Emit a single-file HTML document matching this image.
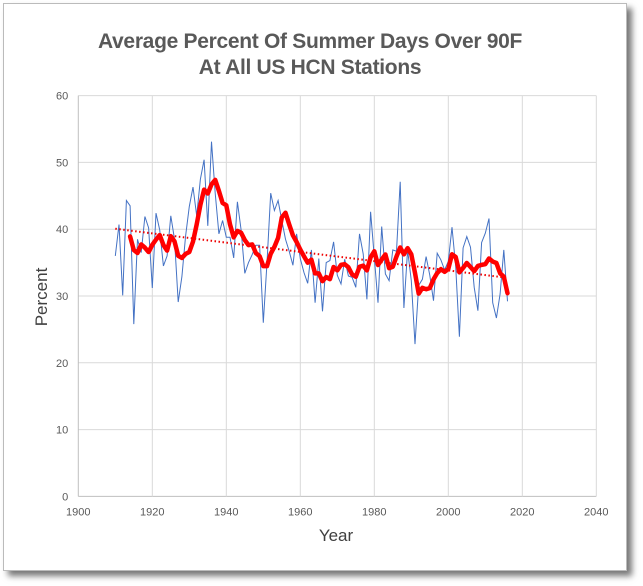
<!DOCTYPE html>
<html><head><meta charset="utf-8"><style>
body{margin:0;background:#fff;width:643px;height:586px;overflow:hidden;font-family:"Liberation Sans",sans-serif}
#frame{position:absolute;left:3px;top:3px;width:622px;height:566px;background:#fff;border:1px solid #bbb;box-shadow:5px 5px 6px #777}
</style></head><body>
<div id="frame"></div>
<svg id="c" width="643" height="586" style="position:absolute;left:0;top:0">
<text x="310" y="48" text-anchor="middle" font-size="21" font-weight="bold" fill="#595959" letter-spacing="-0.3">Average Percent Of Summer Days Over 90F</text>
<text x="310" y="74" text-anchor="middle" font-size="21" font-weight="bold" fill="#595959" letter-spacing="-0.3">At All US HCN Stations</text>
<text x="0" y="0" transform="translate(47,297) rotate(-90)" text-anchor="middle" font-size="17" fill="#404040">Percent</text>
<text x="336" y="541" text-anchor="middle" font-size="17" fill="#404040">Year</text>
<g id="grid"></g><g id="marks"></g>
</svg>
<script>
const years=[];for(let y=1910;y<=2016;y++)years.push(y);
const values=[36.0,40.7,30.1,44.3,43.5,25.8,38.5,36.5,41.9,40.2,31.2,42.4,39.9,34.5,36.0,42.0,38.5,29.1,32.9,39.0,43.4,46.3,42.0,47.5,50.4,40.5,53.1,45.4,39.3,41.3,38.8,38.8,35.7,44.1,39.9,33.4,35.0,36.2,37.6,37.6,26.0,35.0,45.4,42.8,44.3,41.3,38.5,36.7,34.6,39.3,35.6,33.5,31.9,36.9,29.0,35.6,27.7,35.0,35.3,38.1,33.1,31.8,35.5,33.0,32.8,31.3,39.3,36.3,29.5,42.6,35.8,29.0,40.4,33.3,32.3,36.9,36.7,47.1,28.2,36.9,32.3,22.8,31.6,32.5,35.9,33.1,29.3,36.4,35.4,33.9,35.2,40.3,34.4,23.9,37.2,38.9,37.3,31.3,27.8,38.0,39.4,41.6,29.0,26.7,30.3,36.9,29.2];
const xTicks=[1900,1920,1940,1960,1980,2000,2020,2040];
const yTicks=[0,10,20,30,40,50,60];
const NS="http://www.w3.org/2000/svg";
const X=v=>78.3+(v-1900)*3.7, Y=v=>496.4-v*6.68;
function mk(t,a,p){const e=document.createElementNS(NS,t);for(const k in a)e.setAttribute(k,a[k]);p.appendChild(e);return e;}
const g=document.getElementById('grid'),m=document.getElementById('marks');
yTicks.forEach(v=>{
 const l=mk('line',{x1:X(1900),x2:X(2040),y1:Y(v),y2:Y(v),stroke:v===0?'#bfbfbf':'#d9d9d9'},g);
 
 
 const t=mk('text',{x:X(1900)-10,y:Y(v)+4,'text-anchor':'end','font-size':'11',fill:'#595959'},g);t.textContent=v;
 
 
});
xTicks.forEach(v=>{
 const l=mk('line',{x1:X(v),x2:X(v),y1:Y(0),y2:Y(60),stroke:v===1900?'#bfbfbf':'#d9d9d9'},g);
 
 
 const t=mk('text',{x:X(v),y:Y(0)+19,'text-anchor':'middle','font-size':'11',fill:'#595959'},g);t.textContent=v;
 
 
});
const bl=mk('polyline',{points:years.map((y,i)=>X(y)+','+Y(values[i])).join(' '),fill:'none',stroke:'#4472c4','stroke-width':1},m);


const n=values.length,mx=years.reduce((a,b)=>a+b)/n,my=values.reduce((a,b)=>a+b)/n;
let sxy=0,sxx=0;years.forEach((y,i)=>{sxy+=(y-mx)*(values[i]-my);sxx+=(y-mx)*(y-mx);});
const b=sxy/sxx,y0=years[0],y1=years[n-1];
const tr=mk('line',{x1:X(y0),y1:Y(my+b*(y0-mx)),x2:X(y1),y2:Y(my+b*(y1-mx)),stroke:'#e00','stroke-width':2,'stroke-dasharray':'1.5 2.5'},m);


const ma=[];for(let i=4;i<n;i++){let s=0;for(let k=i-4;k<=i;k++)s+=values[k];ma.push(X(years[i])+','+Y(s/5));}
const rl=mk('polyline',{points:ma.join(' '),fill:'none',stroke:'#ff0000','stroke-width':4.5,'stroke-linejoin':'round','stroke-linecap':'round'},m);


</script>
</body></html>
